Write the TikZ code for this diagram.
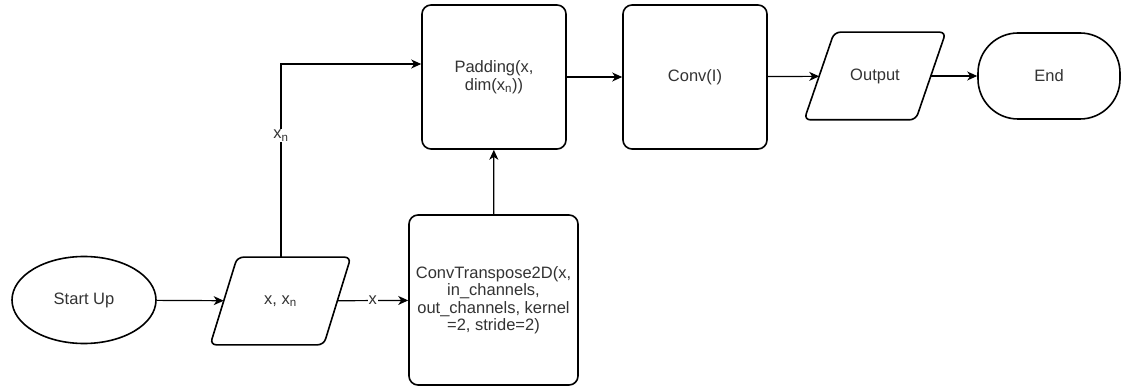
\documentclass[tikz,border=0pt]{standalone}
\usepackage{fontspec}
\setmainfont{Liberation Sans}
\usetikzlibrary{shapes.geometric,arrows.meta}
\definecolor{txt}{HTML}{333333}
\tikzset{
  base/.style={draw=black, line width=1.6pt, fill=white, text=txt, align=center,
    font=\fontsize{16.5}{17.5}\selectfont, inner sep=2pt},
  proc/.style={base, rectangle, rounded corners=9pt},
  iotext/.style={base, draw=none, fill=none, rectangle},
  iobox/.style={draw=black, line width=1.6pt, rounded corners=6pt},
  term/.style={base, ellipse},
  flow/.style={line width=1.2pt, -{Stealth[length=10pt,width=9pt,inset=3pt]}},
  lbl/.style={fill=white, text=txt, font=\fontsize{16.5}{17.5}\selectfont, inner sep=1pt}
}
\begin{document}
\begin{tikzpicture}[x=1pt,y=-1pt]
  \useasboundingbox (0,0) rectangle (1121,387);
  % terminators
  \node[term, minimum width=144pt, minimum height=87pt] (start) at (84,300) {Start Up};
  \node[base, rectangle, rounded corners=40pt, minimum width=142pt, minimum height=86pt] (end) at (1049,76) {End};
  % inputs / outputs: the node holds the text, the slanted outline is drawn round it
  \node[iotext, minimum width=112pt, minimum height=86pt] (inp) at (280.5,301) {x, x\textsubscript{n}};
  \draw[iobox] ([xshift=-13.5pt]inp.south west) -- ([xshift=13.5pt]inp.north west)
    -- ([xshift=13.5pt]inp.north east) -- ([xshift=-13.5pt]inp.south east) -- cycle;
  \node[iotext, minimum width=110pt, minimum height=86pt] (out) at (875,76) {Output};
  \draw[iobox] ([xshift=-15pt]out.south west) -- ([xshift=15pt]out.north west)
    -- ([xshift=15pt]out.north east) -- ([xshift=-15pt]out.south east) -- cycle;
  % processing steps
  \node[proc, minimum width=169pt, minimum height=170pt] (convt) at (493.5,300)
    {ConvTranspose2D(x,\\in\_channels,\\out\_channels, kernel\\=2, stride=2)};
  \node[proc, minimum width=144pt, minimum height=144pt] (pad) at (494,77)
    {Padding(x,\\dim(x\textsubscript{n}))};
  \node[proc, minimum width=144pt, minimum height=144pt] (conv) at (695,77) {Conv(I)};
  % connectors
  \coordinate (bend) at (281,64);
  \draw[flow] (start) -- (inp);
  \draw[flow] (inp) -- node[lbl] {x} (convt);
  \draw[flow] (inp.north -| bend) -- node[lbl, pos=0.63] {x\textsubscript{n}} (bend) -- (bend -| pad.west);
  \draw[flow] (convt) -- (pad);
  \draw[flow] (pad) -- (conv);
  \draw[flow] (conv) -- (out);
  \draw[flow] (out) -- (end);
\end{tikzpicture}
\end{document}
